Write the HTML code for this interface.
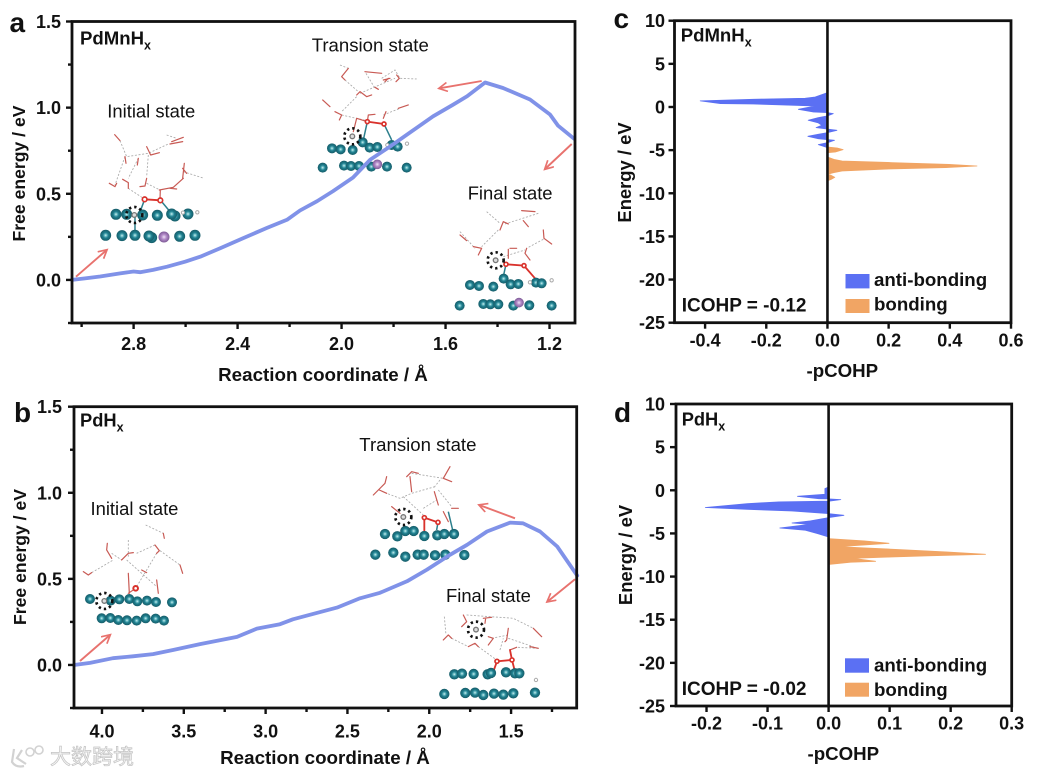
<!DOCTYPE html>
<html lang="en">
<head>
<meta charset="utf-8">
<title>Free energy and pCOHP panels</title>
<style>
html,body{margin:0;padding:0;background:#fff;width:1037px;height:775px;overflow:hidden}
svg{display:block;filter:blur(.35px)}
text{font-family:"Liberation Sans","Noto Sans CJK SC",sans-serif;fill:#111}
.ink-red{fill:none;stroke:#c85a54;stroke-width:3.6;stroke-linecap:round;stroke-linejoin:round}
.ink-o{fill:none;stroke:#d9322c;stroke-width:5.5;stroke-linecap:round}
.ink-gray{fill:none;stroke:#aaa;stroke-width:2.6;stroke-dasharray:6 5}
.ink-teal{fill:none;stroke:#2c7f8c;stroke-width:4.5}
</style>
</head>
<body>
<svg id="figure" xmlns="http://www.w3.org/2000/svg" width="1037" height="775" viewBox="0 0 1037 775">
  <defs>
    <radialGradient id="pdGrad" cx="50%" cy="50%" r="50%">
      <stop offset="0" stop-color="#d8f2f2"/>
      <stop offset="0.22" stop-color="#6cbcc4"/>
      <stop offset="0.5" stop-color="#1f7f8f"/>
      <stop offset="1" stop-color="#165c68"/>
    </radialGradient>
    <radialGradient id="mnGrad" cx="50%" cy="50%" r="50%">
      <stop offset="0" stop-color="#efe4f5"/>
      <stop offset="0.45" stop-color="#b48bc9"/>
      <stop offset="1" stop-color="#7d5a96"/>
    </radialGradient>
    <marker id="arrowHead" markerWidth="12" markerHeight="12" refX="9" refY="5" orient="auto" markerUnits="userSpaceOnUse">
      <path d="M1 0.5 L9.5 5 L1 9.5" fill="none" stroke="#e8726e" stroke-width="1.7"/>
    </marker>
  </defs>

  <g id="inset-a-initial" transform="scale(0.3333)">
    <path class="ink-gray" d="M360 422L380 470L445 460L505 432M375 470L345 555M415 475L385 535M445 465L440 530M550 515L612 535M385 565L430 595M440 550L480 570M500 405L530 415"/>
    <path class="ink-red" d="M344 404L360 422M510 432L548 425M515 425L550 412M440 440L452 465L478 458M375 470L378 490M415 475L412 495M328 550L345 560L350 550M368 538L385 548L385 565M440 535L435 558L420 560M553 490L548 535M548 505L560 520M478 570L520 562L550 535M510 565L530 567M481 570L480 600"/>
    <path class="ink-teal" d="M481 600L510 635M405 650L405 690M434 598L415 650"/>
    <path class="ink-o" d="M434 598L481 601"/>
  </g>
  <g id="inset-a-ts" transform="translate(300 0) scale(0.3333)">
    <path class="ink-gray" d="M120 195L145 205M135 240L175 275M198 220L225 265M245 235L285 210L300 235L350 237M180 280L285 235M170 290L125 335M125 345L200 362M250 345L300 325"/>
    <path class="ink-red" d="M125 230L145 205M125 230L135 240M195 215L245 220M250 240L270 235M255 245L265 235M290 225L298 235L288 245M225 262L235 268M170 285L180 275L200 290L215 285M68 300L90 320M105 335L125 345L118 360M295 325L325 315M250 355L258 335M205 345L225 343M202 365L205 345M202 365L170 355L160 395"/>
    <path class="ink-teal" d="M252 372L275 420M202 365L190 420"/>
    <path class="ink-o" d="M202 365L252 372"/>
  </g>
  <g id="inset-a-fs" transform="translate(300 0) scale(0.3333)">
    <path class="ink-gray" d="M560 635L600 670M615 672L715 640M595 690L545 740M480 695L525 745M730 718L680 745M610 770L675 750"/>
    <path class="ink-red" d="M665 632L705 635M600 690L610 665L625 672M670 662L685 680M480 705L500 722M520 740L545 745L535 765M730 690L732 715L755 732M680 745L675 760L690 780M630 745L650 745M625 748L625 775"/>
    <path class="ink-teal" d="M618 793L610 830"/>
    <path class="ink-o" d="M618 793L672 797L705 835"/>
  </g>
  <g id="inset-b-initial" transform="translate(0 390) scale(0.3333)">
    <path class="ink-gray" d="M437 405L490 430M465 465L410 490M385 450L385 505M335 490L365 510M275 548L340 510M480 482L540 525M470 490L410 590M380 510L470 590"/>
    <path class="ink-red" d="M322 460L320 480L335 505M250 545L265 555L275 548M365 510L385 490L400 488M490 430L493 445M465 465L478 482L470 490M385 550L388 610M425 540L440 548M470 570L475 610M540 525L548 550M407 595L385 610"/>
  </g>
  <g id="inset-b-ts" transform="translate(320 390) scale(0.3333)">
    <path class="ink-gray" d="M275 250L370 265M345 290L275 310L240 325L200 310M360 270L340 295M355 300L395 350M250 320L310 375M310 355L350 330"/>
    <path class="ink-red" d="M200 260L195 280L175 300L160 315M178 300L200 310M260 260L275 245L295 250M270 260L275 305M390 230L370 265L395 275M343 305L355 345M215 350L240 370M395 355L415 355M370 365L385 395"/>
    <path class="ink-teal" d="M385 365L398 420M354 397L350 420"/>
    <path class="ink-o" d="M313 425L313 383L354 397"/>
  </g>
  <g id="inset-b-fs" transform="translate(320 390) scale(0.3333)">
    <path class="ink-gray" d="M373 680L378 735M395 745L445 770M440 675L580 685L640 715M515 745L565 735M475 770L530 810M540 780L550 745M655 775L590 772M565 745L640 770"/>
    <path class="ink-red" d="M430 675L440 695L425 710M490 685L515 682M497 685L495 700M370 750L385 735L395 745M445 770L465 760L475 770M505 740L520 745L505 765M565 715L560 750L555 755M640 715L665 740M630 770L655 775M570 780L590 772"/>
    <path class="ink-o" d="M520 845L531 814L576 810L570 780M576 810L585 845"/>
  </g>

  <g fill="none" stroke="#e8726e" stroke-width="1.9">
    <line x1="76" y1="276.7" x2="106.7" y2="250" marker-end="url(#arrowHead)"/>
    <line x1="481.7" y1="81" x2="439.3" y2="88.3" marker-end="url(#arrowHead)"/>
    <line x1="571.7" y1="144" x2="545" y2="169" marker-end="url(#arrowHead)"/>
    <line x1="80" y1="661" x2="110" y2="635" marker-end="url(#arrowHead)"/>
    <line x1="515" y1="518.3" x2="479.3" y2="505" marker-end="url(#arrowHead)"/>
    <line x1="575" y1="579.3" x2="547.3" y2="601.7" marker-end="url(#arrowHead)"/>
  </g>

  <g>
    <path fill="none" stroke="#d2d2d2" stroke-width="2.2" d="M14 749L12 762Q16 768 24 766M22 750L17 758L26 764"/>
    <circle cx="30" cy="752" r="4" fill="none" stroke="#d2d2d2" stroke-width="1.6"/>
    <circle cx="39" cy="750" r="4" fill="none" stroke="#d2d2d2" stroke-width="1.6"/>
    <text x="50" y="764" font-size="21" style="fill:#f4f4f4;stroke:#c4c4c4;stroke-width:.7">大数跨境</text>
  </g>
</svg>

<script>
/* ---------- chart data ---------- */
const panelACoord = [3.037,2.987,2.929,2.852,2.80,2.775,2.725,2.671,2.602,2.544,2.467,2.379,2.287,2.210,2.160,2.094,2.033,1.956,1.890,1.813,1.737,1.648,1.571,1.517,1.448,1.379,1.275,1.198,1.167,1.106];
const panelAEnergy = [0,0.009,0.020,0.038,0.049,0.045,0.058,0.077,0.106,0.135,0.184,0.242,0.302,0.349,0.403,0.457,0.515,0.594,0.698,0.775,0.855,0.95,1.017,1.066,1.146,1.114,1.047,0.96,0.895,0.82];
const panelAXTicks = [2.8,2.4,2.0,1.6,1.2];
const panelAXMinor = [3.0,2.6,2.2,1.8,1.4];
const panelBCoord = [4.171,4.073,3.933,3.811,3.688,3.566,3.401,3.175,3.053,2.912,2.833,2.667,2.564,2.423,2.301,2.136,2.014,1.873,1.769,1.647,1.506,1.427,1.323,1.218,1.096];
const panelBEnergy = [0,0.012,0.039,0.05,0.063,0.087,0.121,0.163,0.211,0.237,0.265,0.307,0.333,0.387,0.419,0.486,0.554,0.640,0.698,0.775,0.827,0.823,0.775,0.688,0.519];
const panelBXTicks = [4.0,3.5,3.0,2.5,2.0,1.5];
const panelBXMinor = [3.75,3.25,2.75,2.25,1.75,1.25];
const freeEnergyTicks = [0,0.5,1.0,1.5];
const freeEnergyMinor = [-0.25,0.25,0.75,1.25];

const panelCAntiE = [1.67,1.16,1.01,0.89,0.70,0.39,0.35,0.12,-0.27,-0.58,-0.65,-0.77,-1.03,-1.23,-1.54,-1.85,-2.12,-2.39,-2.54,-2.7,-2.97,-3.17,-3.4,-3.67,-3.86,-4.14,-4.36,-4.71];
const panelCAntiV = [0,-0.04,-0.073,-0.242,-0.416,-0.35,-0.242,-0.04,-0.095,-0.046,0,0.019,0,-0.03,-0.063,-0.03,-0.018,-0.037,-0.005,0.031,0,-0.03,-0.064,-0.03,0.023,0,-0.03,0];
const panelCBondE = [-4.64,-4.75,-4.94,-5.22,-5.3,-5.8,-6.07,-6.26,-6.45,-6.65,-6.84,-7.03,-7.19,-7.42,-7.61,-7.8,-7.92,-8.15,-8.39,-8.55];
const panelCBondV = [0,0.032,0.051,0.026,0,0,0.021,0.048,0.211,0.397,0.489,0.386,0.2,0.048,0.021,0,0.012,0.024,0.012,0];
const panelCXTicks = [-0.4,-0.2,0.0,0.2,0.4,0.6];

const panelDAntiE = [0.38,0.2,-0.46,-0.7,-0.97,-1.0,-1.08,-1.27,-1.35,-1.54,-2.0,-2.2,-2.4,-2.7,-2.9,-3.17,-3.55,-3.79,-3.94,-4.37,-4.63,-5.02,-5.41];
const panelDAntiV = [0,-0.006,-0.006,-0.051,-0.016,0,0.02,0,-0.081,-0.133,-0.202,-0.133,-0.06,0,0.025,0,-0.03,-0.06,-0.03,-0.08,-0.038,-0.018,0];
const panelDBondE = [-5.6,-5.87,-6.14,-6.37,-6.53,-6.68,-6.87,-7.15,-7.42,-7.61,-7.76,-7.88,-8.23,-8.34,-8.6];
const panelDBondV = [0,0.058,0.099,0.052,0.017,0.058,0.118,0.195,0.257,0.162,0.09,0.039,0.077,0.036,0];
const panelDXTicks = [-0.2,-0.1,0.0,0.1,0.2,0.3];
const cohpEnergyTicks = [10,5,0,-5,-10,-15,-20,-25];

/* ---------- helpers ---------- */
const NS = 'http://www.w3.org/2000/svg';
const root = document.getElementById('figure');
const INK = '#111';
const BLUE = '#5b70f3';
const ORANGE = '#f1a564';
const CURVE = '#8092e8';

function linear(d0, d1, r0, r1) {
  return function (v) { return r0 + (v - d0) * (r1 - r0) / (d1 - d0); };
}
function shape(parent, tag, props, name) {
  const el = document.createElementNS(NS, tag);
  for (const k in props) el.setAttribute(k, props[k]);
  
  
  parent.appendChild(el);
  return el;
}
function label(parent, str, x, y, size, weight, anchor, name) {
  const t = shape(parent, 'text', {x: x, y: y, 'font-size': size, 'font-weight': weight, 'text-anchor': anchor}, name);
  t.textContent = str;
  return t;
}
function formula(parent, base, x, y, size, name) {
  const t = shape(parent, 'text', {x: x, y: y, 'font-size': size, 'font-weight': 'bold'}, name);
  t.textContent = base;
  const s = shape(t, 'tspan', {dy: 5, 'font-size': 12.5}, name + '-subscript');
  s.textContent = 'x';
  return t;
}
function vtitle(parent, str, x, y, size, name) {
  const t = label(parent, str, 0, 0, size, 'bold', 'middle', name);
  t.setAttribute('transform', 'translate(' + x + ' ' + y + ') rotate(-90)');
  return t;
}
function frame(g, b) {
  shape(g, 'rect', {x: b.l, y: b.t, width: b.r - b.l, height: b.b - b.t, fill: 'none', stroke: INK, 'stroke-width': 2.8}, 'plot-frame');
}
function xTick(g, b, px, len, txt, base) {
  shape(g, 'line', {x1: px, x2: px, y1: b.b, y2: b.b + len, stroke: INK, 'stroke-width': 2.4}, 'x-tick');
  if (txt !== null) label(g, txt, px, base, 18, 'bold', 'middle', 'x-tick-label');
}
function yTick(g, b, py, len, txt, rightX) {
  shape(g, 'line', {x1: b.l - len, x2: b.l, y1: py, y2: py, stroke: INK, 'stroke-width': 2.4}, 'y-tick');
  if (txt !== null) label(g, txt, rightX, py + 6.5, 18, 'bold', 'end', 'y-tick-label');
}

/* ---------- free energy panels ---------- */
function energyPanel(cfg) {
  const g = shape(root, 'g', {}, cfg.name);
  const b = cfg.box;
  const X = linear(cfg.xDomain[0], cfg.xDomain[1], b.l, b.r);
  const Y = linear(-0.25, 1.5, b.b, b.t);
  const d = cfg.coords.map(function (c, i) {
    return (i ? 'L' : 'M') + X(c).toFixed(1) + ' ' + Y(cfg.energies[i]).toFixed(1);
  }).join('');
  shape(g, 'path', {d: d, fill: 'none', stroke: CURVE, 'stroke-width': 3.8, 'stroke-linejoin': 'round', 'stroke-linecap': 'round'}, 'free-energy-curve');
  frame(g, b);
  cfg.xTicks.forEach(function (v) { xTick(g, b, X(v), 6, v.toFixed(1), cfg.xLabelY); });
  cfg.xMinor.forEach(function (v) { xTick(g, b, X(v), 4, null); });
  freeEnergyTicks.forEach(function (v) { yTick(g, b, Y(v), 6, v.toFixed(1), cfg.yLabelX); });
  freeEnergyMinor.forEach(function (v) { yTick(g, b, Y(v), 4, null); });
  return g;
}

/* ---------- pCOHP panels ---------- */
function cohpPanel(cfg) {
  const g = shape(root, 'g', {}, cfg.name);
  const b = cfg.box;
  const X = linear(cfg.xDomain[0], cfg.xDomain[1], b.l, b.r);
  const Y = linear(-25, 10, b.b, b.t);
  function area(es, vs, color, name) {
    const pts = es.map(function (e, i) { return X(vs[i]).toFixed(1) + ',' + Y(e).toFixed(1); });
    pts.unshift(X(0).toFixed(1) + ',' + Y(es[0]).toFixed(1));
    pts.push(X(0).toFixed(1) + ',' + Y(es[es.length - 1]).toFixed(1));
    shape(g, 'polygon', {points: pts.join(' '), fill: color, stroke: color, 'stroke-width': 0.8, 'stroke-linejoin': 'round'}, name);
  }
  area(cfg.antiE, cfg.antiV, BLUE, 'anti-bonding-area');
  area(cfg.bondE, cfg.bondV, ORANGE, 'bonding-area');
  shape(g, 'line', {x1: X(0), x2: X(0), y1: b.t, y2: b.b, stroke: INK, 'stroke-width': 2.6}, 'zero-line');
  frame(g, b);
  cfg.xTicks.forEach(function (v) { xTick(g, b, X(v), 6, v.toFixed(1), cfg.xLabelY); });
  cohpEnergyTicks.forEach(function (v) { yTick(g, b, Y(v), 6, String(v), cfg.yLabelX); });
  return g;
}

const gA = energyPanel({name: 'panel-a', box: {l: 72, t: 21.5, r: 575, b: 323}, xDomain: [3.037, 1.102], coords: panelACoord, energies: panelAEnergy, xTicks: panelAXTicks, xMinor: panelAXMinor, xLabelY: 350, yLabelX: 61});
const gB = energyPanel({name: 'panel-b', box: {l: 74, t: 406.7, r: 576.7, b: 708}, xDomain: [4.171, 1.099], coords: panelBCoord, energies: panelBEnergy, xTicks: panelBXTicks, xMinor: panelBXMinor, xLabelY: 737.5, yLabelX: 62});
const gC = cohpPanel({name: 'panel-c', box: {l: 674.5, t: 20.7, r: 1011, b: 322.7}, xDomain: [-0.5, 0.6], antiE: panelCAntiE, antiV: panelCAntiV, bondE: panelCBondE, bondV: panelCBondV, xTicks: panelCXTicks, xLabelY: 346.7, yLabelX: 665});
const gD = cohpPanel({name: 'panel-d', box: {l: 676, t: 404, r: 1011.7, b: 706}, xDomain: [-0.25, 0.3], antiE: panelDAntiE, antiV: panelDAntiV, bondE: panelDBondE, bondV: panelDBondV, xTicks: panelDXTicks, xLabelY: 729.5, yLabelX: 665});

/* ---------- titles, annotations ---------- */
label(gA, 'a', 9.5, 32, 28, 'bold', 'start', 'panel-letter-a');
label(gB, 'b', 14, 422, 28, 'bold', 'start', 'panel-letter-b');
label(gC, 'c', 613.5, 28, 28, 'bold', 'start', 'panel-letter-c');
label(gD, 'd', 614, 422, 28, 'bold', 'start', 'panel-letter-d');

label(gA, 'Reaction coordinate / Å', 323, 381, 18.8, 'bold', 'middle', 'x-axis-title');
label(gB, 'Reaction coordinate / Å', 325, 764, 18.8, 'bold', 'middle', 'x-axis-title');
vtitle(gA, 'Free energy / eV', 25, 173.5, 17.6, 'y-axis-title');
vtitle(gB, 'Free energy / eV', 26, 557, 17.6, 'y-axis-title');
vtitle(gC, 'Energy / eV', 631, 172.5, 18.4, 'y-axis-title');
vtitle(gD, 'Energy / eV', 632, 555, 18.4, 'y-axis-title');
label(gC, '-pCOHP', 842.3, 377, 18.7, 'bold', 'middle', 'x-axis-title');
label(gD, '-pCOHP', 843.3, 760, 18.7, 'bold', 'middle', 'x-axis-title');

formula(gA, 'PdMnH', 80, 44.6, 18.6, 'system-label');
formula(gB, 'PdH', 80, 426.7, 18.3, 'system-label');
formula(gC, 'PdMnH', 680.7, 41.7, 18.6, 'system-label');
formula(gD, 'PdH', 681.7, 425.7, 18.3, 'system-label');

label(gA, 'Initial state', 107.3, 117.3, 18.4, 'normal', 'start', 'initial-state-label');
label(gA, 'Transion state', 311.7, 51.7, 18.6, 'normal', 'start', 'transition-state-label');
label(gA, 'Final state', 467.7, 199.3, 18.4, 'normal', 'start', 'final-state-label');
label(gB, 'Initial state', 90.5, 515, 18.4, 'normal', 'start', 'initial-state-label');
label(gB, 'Transion state', 359.3, 451, 18.6, 'normal', 'start', 'transition-state-label');
label(gB, 'Final state', 446, 602, 18.4, 'normal', 'start', 'final-state-label');

label(gC, 'ICOHP = -0.12', 681.7, 311.7, 19, 'bold', 'start', 'icohp-value');
label(gD, 'ICOHP = -0.02', 681.7, 695, 19, 'bold', 'start', 'icohp-value');

function legend(g, swatchX, y1, y2, textX, base1, base2) {
  shape(g, 'rect', {x: swatchX, y: y1, width: 24, height: 14.4, fill: BLUE}, 'legend-swatch-anti-bonding');
  label(g, 'anti-bonding', textX, base1, 18.7, 'bold', 'start', 'legend-entry-anti-bonding');
  shape(g, 'rect', {x: swatchX, y: y2, width: 24, height: 14, fill: ORANGE}, 'legend-swatch-bonding');
  label(g, 'bonding', textX, base2, 18.7, 'bold', 'start', 'legend-entry-bonding');
}
legend(gC, 845.5, 274, 299, 874, 286, 310.7);
legend(gD, 845, 658.3, 682.7, 874, 671.7, 696);

/* ---------- illustrated atomic structures (not chart marks) ---------- */
function atoms(id, list, radius, fill, name) {
  const host = document.getElementById(id);
  list.split(' ').forEach(function (pair) {
    const p = pair.split(',');
    shape(host, 'circle', {cx: p[0], cy: p[1], r: radius, fill: fill}, name);
  });
}
function ringed(id, list, radius, stroke, width, name) {
  const host = document.getElementById(id);
  list.split(' ').forEach(function (pair) {
    const p = pair.split(',');
    shape(host, 'circle', {cx: p[0], cy: p[1], r: radius, fill: '#fff', stroke: stroke, 'stroke-width': width}, name);
  });
}
function marked(id, pos) {
  const host = document.getElementById(id);
  const p = pos.split(',');
  shape(host, 'circle', {cx: p[0], cy: p[1], r: 24, fill: 'none', stroke: '#111', 'stroke-width': 8, 'stroke-dasharray': '7 9'}, 'marked-hydrogen-ring');
  shape(host, 'circle', {cx: p[0], cy: p[1], r: 7, fill: '#ddd', stroke: '#777', 'stroke-width': 4}, 'marked-hydrogen-atom');
}
const PD = 'url(#pdGrad)';
const MN = 'url(#mnGrad)';
const O_STROKE = '#d9322c';

atoms('inset-a-initial', '348,643 380,643 428,645 472,646 525,648 515,642 564,642 317,706 366,707 405,706 455,713 447,708 539,709 585,706', 16.5, PD, 'pd-atom');
atoms('inset-a-initial', '492,711', 16.5, MN, 'mn-atom');
ringed('inset-a-initial', '549,638 592,637', 5, '#aaa', 3, 'hydrogen-atom');
ringed('inset-a-initial', '434,598 481,601', 7, O_STROKE, 5, 'oxygen-atom');
marked('inset-a-initial', '403,645');

atoms('inset-a-ts', '96,445 122,448 158,450 188,427 209,443 232,441 275,435 293,440 68,503 132,497 153,498 177,498 214,500 261,500 320,503', 15, PD, 'pd-atom');
atoms('inset-a-ts', '232,493', 14.5, MN, 'mn-atom');
ringed('inset-a-ts', '262,435 321,431', 5, '#aaa', 3, 'hydrogen-atom');
ringed('inset-a-ts', '202,365 252,372', 6, O_STROKE, 5, 'oxygen-atom');
marked('inset-a-ts', '157,409');

atoms('inset-a-fs', '510,855 537,858 580,860 611,836 632,853 655,852 708,848 725,850 479,917 550,912 571,913 595,913 640,917 688,916 755,917', 15, PD, 'pd-atom');
atoms('inset-a-fs', '657,908', 14.5, MN, 'mn-atom');
ringed('inset-a-fs', '690,847 755,841', 5, '#aaa', 3, 'hydrogen-atom');
ringed('inset-a-fs', '618,793 672,797', 6, O_STROKE, 5, 'oxygen-atom');
marked('inset-a-fs', '587,781');

atoms('inset-b-initial', '270,627 332,632 358,628 388,627 412,634 441,632 468,636 516,637 305,685 331,684 355,690 381,691 410,692 437,685 467,686 492,692', 15, PD, 'pd-atom');
ringed('inset-b-initial', '407,595', 7, O_STROKE, 6, 'oxygen-atom');
marked('inset-b-initial', '313,633');

atoms('inset-b-ts', '195,432 232,439 256,423 281,423 313,438 352,436 373,432 402,432 166,494 220,488 256,500 293,494 311,494 345,496 376,494 433,495', 15.5, PD, 'pd-atom');
ringed('inset-b-ts', '313,383 354,397', 6, O_STROKE, 5, 'oxygen-atom');
marked('inset-b-ts', '250,381');

atoms('inset-b-fs', '403,853 426,851 461,852 503,853 513,849 558,847 585,850 598,850 373,912 436,909 465,908 490,915 522,911 550,914 580,910 645,908', 15.5, PD, 'pd-atom');
ringed('inset-b-fs', '648,870', 5, '#aaa', 3, 'hydrogen-atom');
ringed('inset-b-fs', '531,814 576,810', 6, O_STROKE, 5, 'oxygen-atom');
marked('inset-b-fs', '468,719');
</script>
</body>
</html>
